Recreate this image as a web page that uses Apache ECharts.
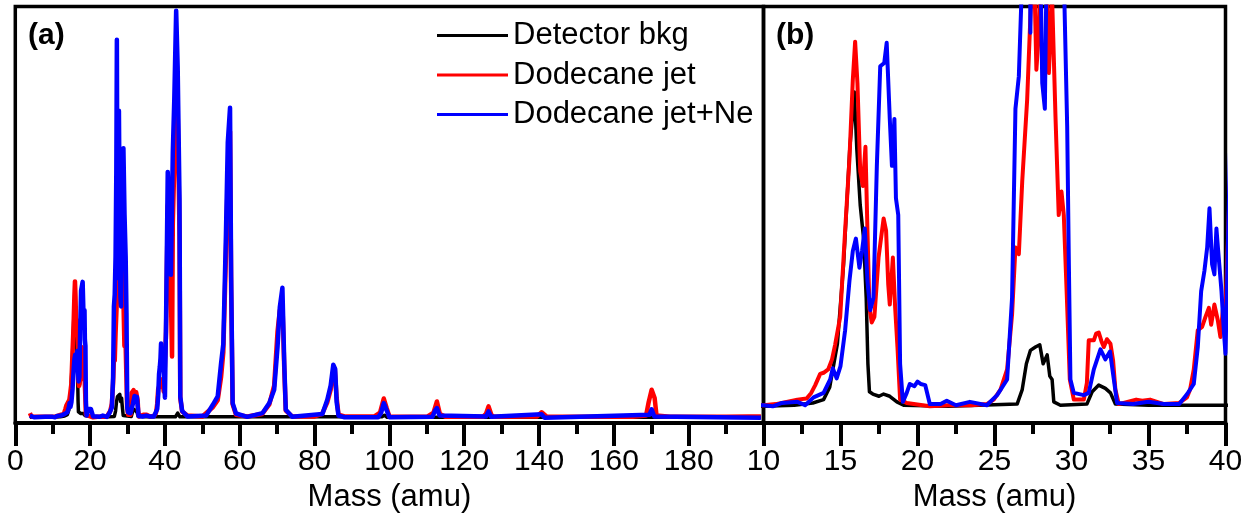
<!DOCTYPE html>
<html>
<head>
<meta charset="utf-8">
<script src="https://cdn.jsdelivr.net/npm/echarts@6/dist/echarts.min.js"></script>
<style>
html,body{margin:0;padding:0;background:#fff;}
#chart{width:1251px;height:518px;}
</style>
</head>
<body>
<div id="chart"></div>
<script>
// ---- data: [mass (amu), intensity (arb. units)] ----
const seriesNames = ['Detector bkg', 'Dodecane jet', 'Dodecane jet+Ne'];
const panelLabels = ['(a)', '(b)'];
const axisTitle = 'Mass (amu)';

const detectorBkg = [
  [3.9,1.4],[10,1.4],[12,1.5],[13.2,1.7],[13.9,2.0],[14.3,3.1],[14.8,7],[15.2,14.1],[15.6,24.4],[15.9,29.5],
  [16.06,24.4],[16.28,19.4],[16.5,16.4],[16.67,11.1],[16.78,5.2],[16.88,2.7],[17.1,2.5],[17.5,2.3],[17.8,2.5],
  [18.2,2.3],[18.66,1.8],[19.1,1.5],[22,1.4],[26.47,1.6],[26.8,2.9],[27.07,5.2],[27.33,6.4],[27.66,6.7],
  [27.94,6.9],[28.16,5.2],[28.42,6.0],[28.59,4.1],[28.74,3.8],[28.85,1.8],[29.28,1.5],[31.0,1.6],[31.34,2.7],
  [31.77,3.3],[32.2,3.0],[32.53,2.6],[32.85,1.6],[35,1.5],[40,1.5],[42.8,1.5],[43.4,2.4],[44,1.5],
  [98,1.5],[98.7,1.9],[99.4,1.4],[199.3,1.4]
];

const dodecaneJet = [
  [3.9,2.4],[4.3,1.6],[6,1.5],[8,1.5],[10.0,1.5],[10.8,1.6],[11.5,1.8],[12.2,2.0],[12.8,2.1],[13.1,2.6],
  [13.36,3.3],[13.68,4.3],[13.9,4.4],[14.2,4.7],[14.45,5.6],[14.65,6.9],[14.98,9.4],[15.3,17.1],[15.58,23.5],
  [15.8,30.6],[15.95,34.0],[16.1,30.3],[16.28,22.4],[16.45,21.1],[16.62,24.6],[16.75,17.1],[16.88,10.2],
  [17.03,8.9],[17.2,9.4],[17.47,14.7],[17.8,18.2],[17.96,17.1],[18.1,12.3],[18.2,10.5],[18.4,14.7],[18.55,10.2],
  [18.7,6.7],[18.87,2.0],[19.3,1.7],[20.8,1.4],[22,1.5],[23.5,1.5],[24.5,1.6],[24.95,2.0],[25.39,2.9],
  [25.82,4.7],[26.14,9.6],[26.36,15.6],[26.58,15.0],[26.8,21.5],[27.12,28.8],[27.33,36.2],[27.55,42],
  [27.72,31.5],[27.88,34.8],[28.1,48],[28.3,45],[28.53,31.2],[28.74,38],[28.96,27.3],[29.17,18.5],
  [29.35,20.6],[29.5,18.5],[29.7,11.1],[29.89,3.8],[30.15,2.0],[30.8,2.0],[31.0,3.5],[31.12,7.3],[31.45,7.3],
  [31.6,7.9],[31.77,8.0],[31.95,7.2],[32.1,6.7],[32.3,7.4],[32.53,7.0],[32.7,5.5],[32.85,2.9],[33.07,1.6],
  [34.2,2.0],[34.6,1.9],[35.1,2.0],[36,1.6],[37,1.7],[37.5,2.2],[37.7,2.9],[37.94,4.7],[38.2,8.2],[38.48,8.5],
  [38.7,9.4],[38.92,10.2],[39.07,8.7],[39.28,10.5],[39.5,9.1],[39.67,7.6],[39.84,10.2],[40.0,10.0],
  [40.3,22],[40.75,52],[41.2,55],[41.6,30],[41.9,16],[42.1,48],[42.5,62],[43.0,85],[43.4,75],[43.9,45],
  [44.1,6],[44.6,2.8],[46,1.8],[50,1.6],[52.8,3.8],[54.1,5.5],[55,11],[55.6,17],[56.3,40],[56.8,60],
  [57.4,70],[57.7,32],[58.1,4.5],[59,2.0],[62,1.6],[66,2.2],[67.9,4.5],[69.2,9],[70.1,22],[70.7,27],
  [71.4,29],[71.9,13],[72.3,3],[74,1.6],[80,1.6],[82,2.2],[83.4,5],[84.3,8],[85.0,12.5],[85.4,13],
  [85.9,6],[86.4,2],[88,1.6],[96,1.6],[97.5,2.5],[98.5,5.9],[99.3,3.5],[100,1.6],[110,1.5],[111.8,2.5],
  [112.7,5.2],[113.5,2.2],[115,1.5],[125,1.5],[125.8,2.2],[126.5,4.0],[127.3,1.9],[128,1.5],[139.5,1.6],
  [140.7,2.6],[142,1.6],[150,1.5],[165,1.5],[168.6,1.8],[169.3,5],[170.1,8.0],[170.9,6],[171.4,1.8],
  [175,1.5],[190,1.5],[196,1.6],[199.3,1.6]
];

const dodecaneJetNe = [
  [3.9,1.8],[5,1.4],[8,1.5],[10.0,1.5],[10.6,1.4],[11.2,1.7],[12.2,1.8],[12.7,1.5],[13.25,2.2],[13.9,2.6],
  [14.33,3.8],[14.5,4.8],[14.75,3.9],[15.0,5.0],[15.3,8.2],[15.58,12.6],[15.8,15.3],[16.0,16.4],[16.23,13.8],
  [16.4,15.3],[16.58,17.3],[16.75,12.6],[16.93,10.0],[17.14,11.1],[17.36,22.9],[17.58,31.8],[17.84,32.1],
  [18.0,33.9],[18.2,27.1],[18.34,22.9],[18.5,27.1],[18.6,20.0],[18.75,18.5],[18.87,5.2],[19.05,1.8],[19.3,2.6],
  [19.5,3.4],[19.8,3.2],[20.0,3.6],[20.2,3.4],[20.5,3.3],[20.8,1.6],[21.5,1.6],[21.9,1.9],[22.5,1.5],
  [23.4,1.8],[24.5,1.5],[25.17,2.4],[25.82,3.8],[26.14,11.1],[26.36,28],[26.58,30.9],[26.8,40],[27.0,60],
  [27.15,92],[27.33,34.8],[27.5,60],[27.7,75],[27.94,45],[28.1,30.3],[28.27,28],[28.42,45],[28.6,55],
  [28.9,66],[29.2,50],[29.5,40],[29.72,26.4],[29.83,14],[29.93,3.8],[30.15,2.6],[30.8,2.4],[31.12,2.6],
  [31.45,4.7],[31.88,6.5],[32.2,5.6],[32.5,6.3],[32.75,3.8],[32.96,1.7],[34,1.6],[35,1.8],[36,1.6],[37,1.6],
  [37.51,2.5],[37.94,3.4],[38.2,6.7],[38.42,11.7],[38.63,13.5],[38.81,15.6],[38.96,19.1],[39.13,14.1],
  [39.28,13.2],[39.41,17.3],[39.56,14.7],[39.74,11.7],[39.89,8.2],[40.0,6.1],
  [40.3,24.7],[40.75,60.3],[41.2,60.3],[41.6,35.6],[42.1,65],[42.5,77.7],[43.0,99],[43.4,85.6],[43.9,53.9],
  [44.1,6.4],[44.6,2.9],[46,1.6],[51,1.8],[52.8,4.4],[54.1,6.4],[55,14.3],[55.6,19],[56.3,45.2],[56.8,67.4],
  [57.4,75.7],[57.7,35],[58.1,4.8],[59,2.3],[62,1.5],[66.1,2.4],[67.9,4.8],[69.2,8],[70.1,18.3],[70.7,27.8],
  [71.4,32.5],[71.9,14.3],[72.3,3.2],[74,1.5],[82.1,2.2],[83.4,5.6],[84.3,9],[85.0,14],[85.5,13],[85.9,5],
  [86.4,1.8],[88,1.4],[97,1.4],[97.8,2.5],[98.5,4.8],[99.3,3],[100,1.4],[111.5,1.5],[112.2,3],[112.7,3.6],
  [113.4,1.8],[125.8,1.6],[126.5,2.8],[127.2,1.5],[140.7,2.1],[141.5,1.3],[169.5,2],[170.1,3.3],[170.8,1.6],
  [199.3,1.3]
];

// axis ranges / ticks
const panelA_x = {min: 0, max: 200, interval: 20};
const panelB_x = {min: 10, max: 40, interval: 5};
const panelA_y = {min: 0, max: 100};
const panelB_y = {min: -0.1, max: 37.15};

const colors = ['#000000', '#ff0000', '#0000ff'];
const widthsA = [3.5, 4.5, 4.5];
const widthsB = [3.5, 4, 4];
const FONT = '"Liberation Sans", Arial, sans-serif';

const chart = echarts.init(document.getElementById('chart'), null, {renderer: 'canvas'});

function xAxisFor(idx, r, hideMax) {
  return {
    type: 'value', gridIndex: idx, min: r.min, max: r.max, interval: r.interval,
    name: axisTitle, nameLocation: 'middle', nameGap: 56,
    nameTextStyle: {fontFamily: FONT, fontSize: 31, color: '#000'},
    axisLine: {show: true, onZero: false, lineStyle: {color: '#000', width: 4}},
    axisTick: {show: true, inside: false, length: 23, lineStyle: {color: '#000', width: 4}},
    minorTick: {show: true, splitNumber: 2, length: 11, lineStyle: {color: '#000', width: 4}},
    axisLabel: {show: true, margin: 24, fontFamily: FONT, fontSize: 30, color: '#000',
      showMaxLabel: !hideMax, showMinLabel: true},
    splitLine: {show: false}
  };
}
function yAxisFor(idx, r) {
  return {type: 'value', gridIndex: idx, min: r.min, max: r.max, show: false,
    splitLine: {show: false}};
}

const data = [detectorBkg, dodecaneJet, dodecaneJetNe];
const series = [];
[0, 1].forEach(function (g) {
  data.forEach(function (d, i) {
    series.push({
      type: 'line', name: seriesNames[i], xAxisIndex: g, yAxisIndex: g,
      data: d, showSymbol: false, symbol: 'none', clip: true,
      lineStyle: {color: colors[i], width: g === 0 ? widthsA[i] : widthsB[i], join: 'round'},
      itemStyle: {color: colors[i]},
      z: 2 + i, animation: false
    });
  });
});

chart.setOption({
  animation: false,
  backgroundColor: '#fff',
  title: [
    {text: panelLabels[0], left: 23, top: 16,
      textStyle: {fontFamily: FONT, fontSize: 30, fontWeight: 'bold', color: '#000', lineHeight: 30}},
    {text: panelLabels[1], left: 771, top: 16,
      textStyle: {fontFamily: FONT, fontSize: 30, fontWeight: 'bold', color: '#000', lineHeight: 30}}
  ],
  legend: {
    data: seriesNames, orient: 'vertical', left: 432, top: 15,
    icon: 'rect', itemWidth: 71, itemHeight: 3, itemGap: 8.5,
    textStyle: {fontFamily: FONT, fontSize: 31, color: '#000', lineHeight: 30, padding: [0, 0, 0, 0]},
    selectedMode: false
  },
  grid: [
    {left: 15.3, top: 6.5, width: 748.2, height: 421, show: true, borderColor: '#000', borderWidth: 3.5,
      backgroundColor: 'transparent'},
    {left: 763.5, top: 6.5, width: 462, height: 421, show: true, borderColor: '#000', borderWidth: 3.5,
      backgroundColor: 'transparent'}
  ],
  xAxis: [xAxisFor(0, panelA_x, true), xAxisFor(1, panelB_x, false)],
  yAxis: [yAxisFor(0, panelA_y), yAxisFor(1, panelB_y)],
  series: series
});
</script>
</body>
</html>
